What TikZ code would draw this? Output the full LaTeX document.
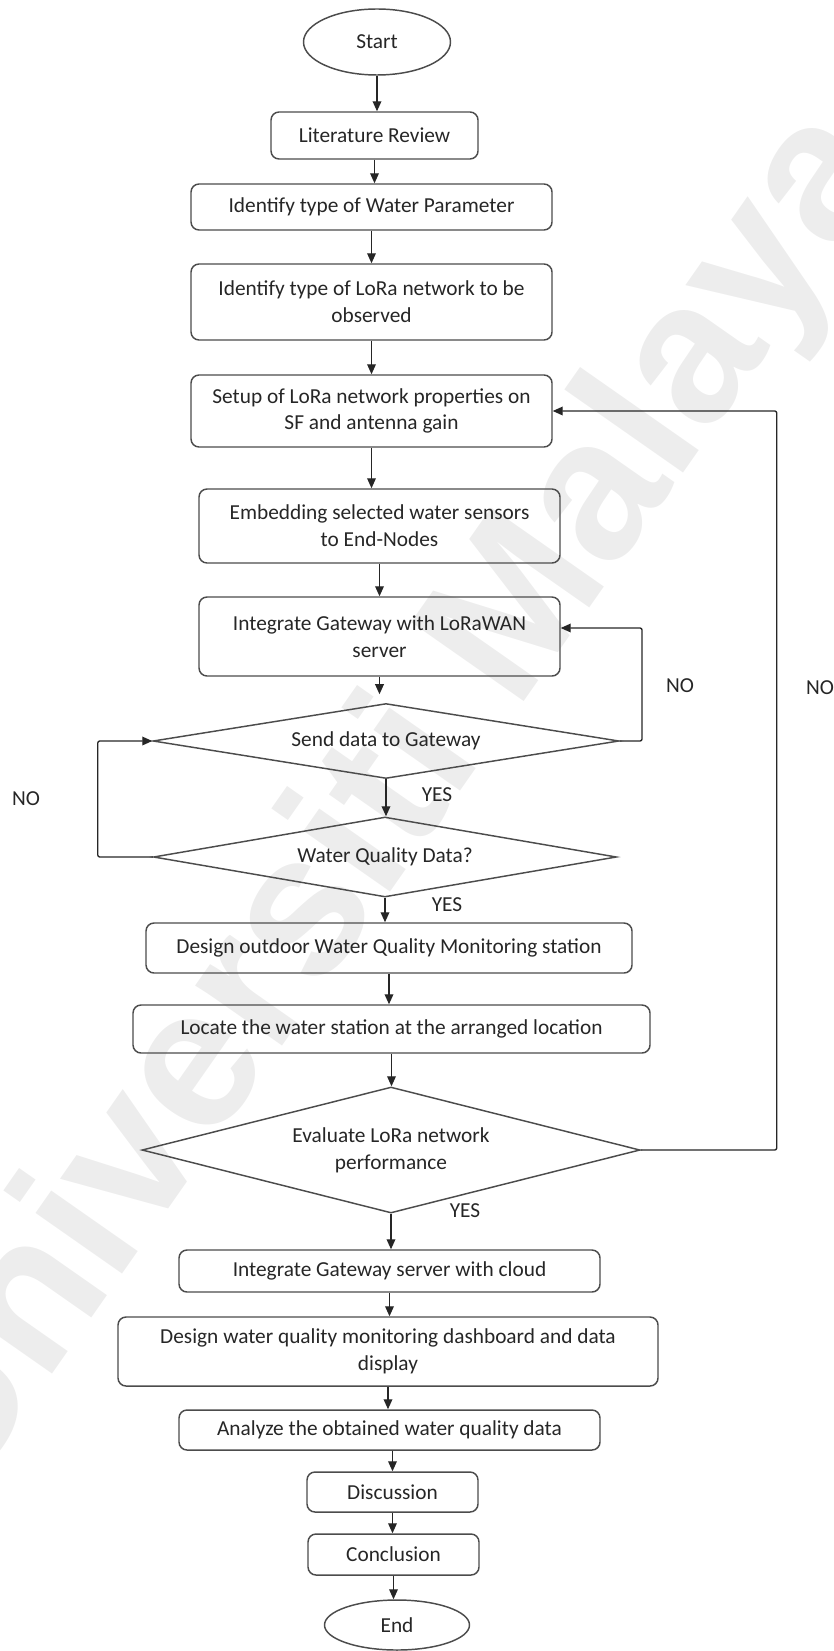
\documentclass[tikz,border=0pt]{standalone}
\usepackage{fontspec}
\setmainfont{Carlito}
\newfontfamily\wmfont{Liberation Sans}
\usetikzlibrary{shapes.geometric,arrows.meta,calc}

\begin{document}
\begin{tikzpicture}[x=0.75pt,y=-0.75pt,
  font=\fontsize{16}{20}\selectfont,
  sz/.style 2 args={minimum width=#1*0.75pt,minimum height=#2*0.75pt},
  proc/.style={draw=black!70,line width=1.1pt,rounded corners=6pt,align=center,inner sep=0pt,text=black!85},
  term/.style={draw=black!70,line width=1.1pt,ellipse,inner sep=0pt,text=black!85},
  decide/.style={draw=black!70,line width=1.1pt,diamond,align=center,inner sep=0pt,text=black!85},
  arr/.style={draw=black!85,line width=1pt,-{Triangle[length=7.5pt,width=6.5pt]}},
  lbl/.style={inner sep=0pt,text=black!85}
]
\useasboundingbox (0,0) rectangle (834,1651);

% faint repository watermark behind the chart
\node[rotate=55,text=black!7,inner sep=0pt,
  font=\wmfont\bfseries\fontsize{150}{150}\selectfont] (wm) at (388,805) {Universiti Malaya};

% process chain
\node[term,sz={147}{66}] (start) at (377,42) {Start};
\node[proc,sz={207}{47}] (lit) at (374.5,135.5) {Literature Review};
\node[proc,sz={361}{46}] (idwp) at (371.5,207) {Identify type of Water Parameter};
\node[proc,sz={361}{76}] (idlora) at (371.5,302) {Identify type of LoRa network to be\\observed};
\node[proc,sz={361}{72}] (setup) at (371.5,411) {Setup of LoRa network properties on\\SF and antenna gain};
\node[proc,sz={361}{74}] (embed) at (379.5,526) {Embedding selected water sensors\\to End-Nodes};
\node[proc,sz={361}{79}] (intlw) at (379.5,636.5) {Integrate Gateway with LoRaWAN\\server};
\node[decide,sz={466}{75},aspect=6.2] (send) at (386,741) {Send data to Gateway};
\node[decide,sz={463}{80},aspect=5.8] (wq) at (385,857) {Water Quality Data?};
\node[proc,sz={486}{50}] (design) at (389,948) {Design outdoor Water Quality Monitoring station};
\node[proc,sz={517}{48}] (locate) at (391.5,1029) {Locate the water station at the arranged location};
\node[decide,sz={498}{126},aspect=3.95] (eval) at (391,1150) {Evaluate LoRa network\\performance};
\node[proc,sz={421}{42}] (cloud) at (389.5,1271) {Integrate Gateway server with cloud};
\node[proc,sz={540}{69}] (dash) at (388,1351.5) {Design water quality monitoring dashboard and data\\display};
\node[proc,sz={421}{40}] (analyze) at (389.5,1430) {Analyze the obtained water quality data};
\node[proc,sz={171}{40}] (disc) at (392.5,1492) {Discussion};
\node[proc,sz={171}{41}] (concl) at (393.5,1554.5) {Conclusion};
\node[term,sz={145}{50}] (end) at (397,1625) {End};

% straight-down connectors
\draw[arr] (start.south) -- (start.south |- lit.north);
\draw[arr] (lit.south) -- (lit.south |- idwp.north);
\draw[arr] (idwp.south) -- (idwp.south |- idlora.north);
\draw[arr] (idlora.south) -- (idlora.south |- setup.north);
\draw[arr] (setup.south) -- (setup.south |- embed.north);
\draw[arr] (embed.south) -- (embed.south |- intlw.north);
\draw[arr,shorten >=6.4pt] (intlw.south) -- (intlw.south |- send.north);
\draw[arr] (send.south) -- (send.south |- wq.north);
\draw[arr] (wq.south) -- (wq.south |- design.north);
\draw[arr] (design.south) -- (design.south |- locate.north);
\draw[arr] (locate.south) -- (locate.south |- eval.north);
\draw[arr] (eval.south) -- (eval.south |- cloud.north);
\draw[arr] (cloud.south) -- (cloud.south |- dash.north);
\draw[arr] (dash.south) -- (dash.south |- analyze.north);
\draw[arr] (analyze.south -| disc.north) -- (disc.north);
\draw[arr] (disc.south) -- (disc.south |- concl.north);
\draw[arr] (concl.south) -- (concl.south |- end.north);

% feedback loops
\coordinate (hookA) at (642,628);
\draw[arr,rounded corners=1.5pt] (send.east) -| (hookA) -- (hookA -| intlw.east);
\draw[arr,rounded corners=1.5pt] (wq.west) -- ++(-55,0) |- (send.west);
\draw[arr,rounded corners=1.5pt] (eval.east) -- ++(136,0) |- (setup.east);

% branch labels
\node[lbl] (no1) at (680,686) {NO};
\node[lbl] (no2) at (820,688) {NO};
\node[lbl] (no3) at (26,799) {NO};
\node[lbl] (yes1) at (437,795) {YES};
\node[lbl] (yes2) at (447,905) {YES};
\node[lbl] (yes3) at (465,1211) {YES};
\end{tikzpicture}
\end{document}
